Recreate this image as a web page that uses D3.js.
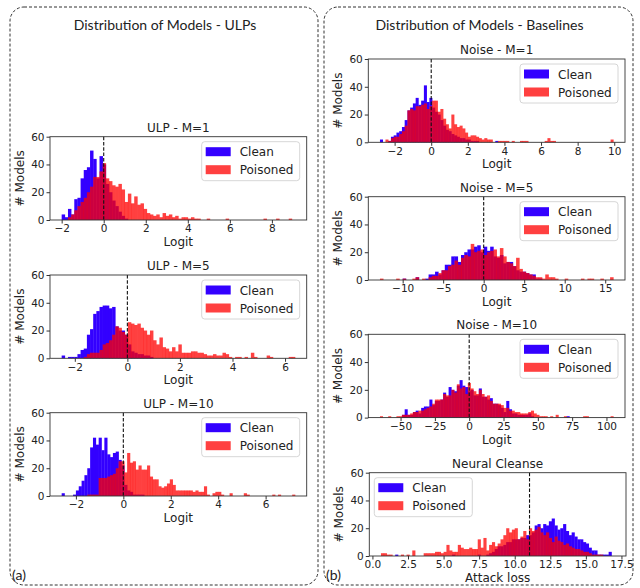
<!DOCTYPE html>
<html>
<head>
<meta charset="utf-8">
<script src="https://cdn.jsdelivr.net/npm/d3@7"></script>
<style>
  body { margin: 0; background: #fff; }
</style>
</head>
<body>
<div id="chart"></div>
<script>
// ---- data: histogram counts (bin start, bin width, counts per bin) ----
const ulp1Start = -2.0, ulp1Step = 0.15;
const ulp1Clean = [4,2,8,4,15,16,30,36,38,50,44,30,46,40,26,20,14,10,6,3,1];
const ulp1Poisoned = [0,0,2,4,7,10,13,16,20,24, 31,31,35,41,30,28,25,24,26,22,
  13,19,12,17,11,12,8,5,4,3, 4,2,5,3,4,2,3,1,2,2, 1,2,1,1,0,0,1,0,0,0,
  0,0,1,0,0,0,0,0,0,0, 0,0,0,0,1,0,0,0,1,0, 0,0,1,0];

const ulp5Start = -2.5, ulp5Step = 0.12;
const ulp5Clean = [2,0,1,1,1,3,6,7,17,21, 32,34,37,38,38,36,37,23,20,20, 17,10,5,4,3,3,2,2,1];
const ulp5Poisoned = [0,0,0,0,0,0,0,1,3,4, 4,4,6,10,11,13,17,23,22,19,
  17,26,25,24,25,22,20,17,20,13, 10,15,8,7,5,8,5,10,4,4, 4,5,5,4,4,3,2,2,3,2,
  2,4,3,1,0,1,1,0,1,0, 4,1,0,0,0,2,1,0,0,0, 0,0,1,1];

const ulp10Start = -2.6, ulp10Step = 0.12;
const ulp10Clean = [2,0,0,0,1,4,7,11,15,20, 35,42,37,42,33,42,30,28,31,32, 26,22,8,4,3,1,1,1,1];
const ulp10Poisoned = [0,0,0,0,0,0,0,0,0,1, 1,1,1,13,13,13,14,15,16,20,
  25,25,17,31,24,25,19,22,19,19, 22,14,12,12,7,6,7,9,12,8, 4,4,4,4,4,4,3,4,3,3,
  7,1,0,2,3,3,1,0,0,2, 0,0,0,0,2,1,0,0,0,0, 0,0,0,0,1,0,1,0,0,0, 0,1];

const noise1Start = -2.8, noise1Step = 0.15;
const noise1Clean = [2,0,0,1,4,5,7,8,11,16, 23,25,28,32,27,30,41,29,32,25,
  22,20,16,12,9,8,6,5,4,3, 3,2,2,1,1,1,0,0,0,0, 0,0,1];
const noise1Poisoned = [0,0,2,1,3,4,4,6,8,12, 23,24,23,26,26,27,28,24,26,30,
  30,22,24,17,13,10,20,13,11,12, 10,7,4,5,5,4,3,2,3,2, 2,0,0,1,1,1,1,0,1,0,
  0,1,1,1,0,0,0,0,0,0, 1,3,1,1,0,0,0,0,0,0, 0,0,0,0,0,0,0,0,0,0, 0,0,0,0,2];

const noise5Start = -12.8, noise5Step = 0.4;
const noise5Clean = [0,0,0,0,0,0,0,1,0,0, 0,2,0,0,1,4,4,6,4,7,
  11,11,17,17,13,18,20,22,22,24, 25,20,24,21,24,17,16,18,12,13, 13,10,7,6,6,5,4,4,1,1];
const noise5Poisoned = [1,0,0,0,0,1,0,1,0,0, 1,2,0,1,0,2,3,3,5,7,
  7,10,11,14,11,16,18,17,26,20, 21,22,18,20,21,22,17,23,17,13, 12,10,16,8,6,5,4,3,2,2,
  1,4,2,2,1,0,0,1,0,0, 0,0,1,0,1,1,0,0,1,0, 0,2];

const noise10Start = -65, noise10Step = 2;
const noise10Clean = [0,0,0,0,0,0,0,0,2,6, 2,2,4,5,3,7,8,8,13,9,
  12,12,13,18,15,22,20,19,23,27, 23,22,19,20,16,16,21,15,15,13, 14,10,10,9,7,4,12,6,3,3,
  2,2,2,2,3,1,0,0,0,0, 0,0,0,0,0,0,0,0,1];
const noise10Poisoned = [1,0,0,1,0,0,1,1,2,2, 2,3,4,4,5,5,6,7,8,10,
  13,13,13,17,16,16,20,18,24,21, 22,17,25,21,19,17,20,17,15,16, 12,10,10,10,9,7,7,5,5,4,
  4,3,3,3,4,5,3,2,1,1, 1,0,1,0,2,0,0,1,0,0, 0,0,0,0,1,1,0,0,0,0, 0,0,0,0,1];

const ncStart = 0.6, ncStep = 0.2;
const ncClean = [0,0,0,0,0,1,0,0,0,0, 0,0,0,0,0,0,0,0,0,0,
  0,0,0,0,0,1,0,0,0,0, 0,0,0,0,1,0,0,1,2,3, 5,7,7,8,10,10,12,12,12,13,
  13,15,15,17,22,23,20,23,22,25, 27,22,19,20,23,18,15,17,14,12, 12,10,9,6,4,4,1,1,1,1, 3,0];
const ncPoisoned = [2,2,1,1,0,0,0,1,0,1, 0,4,0,0,0,2,2,2,2,3,
  3,2,3,8,4,3,3,8,6,5, 5,6,5,5,12,6,13,4,8,10, 7,9,12,15,20,17,19,20,12,14,
  18,12,20,18,19,21,17,15,17,13, 10,14,11,10,8,9,7,6,5,5, 4,3,3,2,1,1,1,1,0,0, 0,0];

const logitTicks = [-2, 0, 2, 4, 6, 8, 10];
const noise5Ticks = [-10, -5, 0, 5, 10, 15];
const noise10Ticks = [-50, -25, 0, 25, 50, 75, 100];
const ncTicks = [0, 2.5, 5, 7.5, 10, 12.5, 15, 17.5];
const countTicks = [0, 20, 40, 60];
const seriesNames = ["Clean", "Poisoned"];

// ---- layout ----
const width = 640, height = 588;
const plotW = 256.7, plotH = 83.3;
const blue = "#3300ff", red = "#ff0000";
const mplFont = "'DejaVu Sans', sans-serif";
const slideFont = "Lato, 'Open Sans', sans-serif";

const charts = [
  {title: "ULP - M=1", xLabel: "Logit", start: ulp1Start, step: ulp1Step, clean: ulp1Clean, poisoned: ulp1Poisoned,
   ticks: logitTicks, fmt: "d", threshold: 0, left: 50, top: 136.7, legend: "right"},
  {title: "ULP - M=5", xLabel: "Logit", start: ulp5Start, step: ulp5Step, clean: ulp5Clean, poisoned: ulp5Poisoned,
   ticks: logitTicks, fmt: "d", threshold: 0, left: 50, top: 275, legend: "right"},
  {title: "ULP - M=10", xLabel: "Logit", start: ulp10Start, step: ulp10Step, clean: ulp10Clean, poisoned: ulp10Poisoned,
   ticks: logitTicks, fmt: "d", threshold: 0, left: 50, top: 412.7, legend: "right"},
  {title: "Noise - M=1", xLabel: "Logit", start: noise1Start, step: noise1Step, clean: noise1Clean, poisoned: noise1Poisoned,
   ticks: logitTicks, fmt: "d", threshold: 0, left: 368.3, top: 59, legend: "right"},
  {title: "Noise - M=5", xLabel: "Logit", start: noise5Start, step: noise5Step, clean: noise5Clean, poisoned: noise5Poisoned,
   ticks: noise5Ticks, fmt: "d", threshold: 0, left: 368.3, top: 196.7, legend: "right"},
  {title: "Noise - M=10", xLabel: "Logit", start: noise10Start, step: noise10Step, clean: noise10Clean, poisoned: noise10Poisoned,
   ticks: noise10Ticks, fmt: "d", threshold: 0, left: 368.3, top: 334.3, legend: "right"},
  {title: "Neural Cleanse", xLabel: "Attack loss", start: ncStart, step: ncStep, clean: ncClean, poisoned: ncPoisoned,
   ticks: ncTicks, fmt: ".1f", threshold: 11.04, left: 369.3, top: 472.7, legend: "left"}
];

const svg = d3.select("#chart").append("svg")
  .attr("width", width)
  .attr("height", height)
  .attr("viewBox", [0, 0, width, height]);

svg.append("rect").attr("width", width).attr("height", height).attr("fill", "#fff");

// dashed panels
const panels = [
  {x: 10, y: 7, w: 308, h: 578, title: "Distribution of Models - ULPs", tag: "(a)"},
  {x: 324, y: 7, w: 309, h: 578, title: "Distribution of Models - Baselines", tag: "(b)"}
];
panels.forEach(p => {
  svg.append("rect")
    .attr("x", p.x).attr("y", p.y).attr("width", p.w).attr("height", p.h)
    .attr("rx", 14).attr("ry", 14)
    .attr("fill", "none").attr("stroke", "#333").attr("stroke-width", 1)
    .attr("stroke-dasharray", "3,2");
  svg.append("text")
    .attr("x", p.x + p.w / 2 + 1).attr("y", 30)
    .attr("text-anchor", "middle")
    .style("font-family", slideFont)
    .style("font-size", "14px")
    .attr("fill", "#222")
    .text(p.title);
  svg.append("text")
    .attr("x", p.x + 2).attr("y", 580)
    .style("font-family", slideFont)
    .style("font-size", "14px")
    .attr("fill", "#222")
    .text(p.tag);
});

charts.forEach(c => {
  const n = Math.max(c.clean.length, c.poisoned.length);
  const lo = c.start, hi = c.start + n * c.step;
  const pad = (hi - lo) * 0.05;

  const x = d3.scaleLinear().domain([lo - pad, hi + pad]).range([c.left, c.left + plotW]);
  const y = d3.scaleLinear().domain([0, 60]).range([c.top + plotH, c.top]);
  const ticks = c.ticks.filter(t => t >= lo - pad && t <= hi + pad);

  const g = svg.append("g");

  const bars = (counts, color, opacity) => {
    g.append("g")
      .attr("fill", color)
      .attr("fill-opacity", opacity)
      .selectAll("rect")
      .data(counts.map((v, i) => ({i, v})).filter(d => d.v > 0))
      .join("rect")
      .attr("x", d => x(c.start + d.i * c.step))
      .attr("width", d => x(c.start + (d.i + 1) * c.step) - x(c.start + d.i * c.step) + 0.3)
      .attr("y", d => y(d.v))
      .attr("height", d => y(0) - y(d.v));
  };
  bars(c.clean, blue, 1);
  bars(c.poisoned, red, 0.75);

  // threshold line
  g.append("line")
    .attr("x1", x(c.threshold)).attr("x2", x(c.threshold))
    .attr("y1", c.top).attr("y2", c.top + plotH)
    .attr("stroke", "#111").attr("stroke-width", 1.1)
    .attr("stroke-dasharray", "3.5,1.8");

  // axes
  g.append("g")
    .attr("transform", `translate(0,${c.top + plotH})`)
    .call(d3.axisBottom(x).tickValues(ticks).tickFormat(d3.format(c.fmt)).tickSize(3.5).tickPadding(1.5))
    .call(a => a.select(".domain").remove())
    .call(a => a.selectAll("text").style("font-family", mplFont).style("font-size", "10.5px").attr("fill", "#222"))
    .call(a => a.selectAll("line").attr("stroke", "#333"));

  g.append("g")
    .attr("transform", `translate(${c.left},0)`)
    .call(d3.axisLeft(y).tickValues(countTicks).tickSize(3.5).tickPadding(2))
    .call(a => a.select(".domain").remove())
    .call(a => a.selectAll("text").style("font-family", mplFont).style("font-size", "10.5px").attr("fill", "#222"))
    .call(a => a.selectAll("line").attr("stroke", "#333"));

  g.append("rect")
    .attr("x", c.left).attr("y", c.top).attr("width", plotW).attr("height", plotH)
    .attr("fill", "none").attr("stroke", "#333").attr("stroke-width", 0.9);

  // labels
  const label = (sel) => sel.style("font-family", mplFont).style("font-size", "12px").attr("fill", "#222");
  g.append("text")
    .attr("x", c.left + plotW / 2).attr("y", c.top - 5)
    .attr("text-anchor", "middle").call(label)
    .text(c.title);
  g.append("text")
    .attr("x", c.left + plotW / 2).attr("y", c.top + plotH + 26)
    .attr("text-anchor", "middle").call(label)
    .text(c.xLabel);
  g.append("text")
    .attr("transform", `translate(${c.left - 26},${c.top + plotH / 2}) rotate(-90)`)
    .attr("text-anchor", "middle").call(label)
    .text("# Models");

  // legend
  const lw = 98, lh = 39;
  const lx = c.legend === "right" ? c.left + plotW - 7 - lw : c.left + 5;
  const ly = c.top + 5;
  const leg = g.append("g").attr("transform", `translate(${lx},${ly})`);
  leg.append("rect")
    .attr("width", lw).attr("height", lh).attr("rx", 3)
    .attr("fill", "#fff").attr("fill-opacity", 0.8)
    .attr("stroke", "#ccc").attr("stroke-width", 0.8);
  seriesNames.forEach((name, i) => {
    leg.append("rect")
      .attr("x", 4).attr("y", 5.5 + i * 18).attr("width", 25).attr("height", 9)
      .attr("fill", i === 0 ? blue : red).attr("fill-opacity", i === 0 ? 1 : 0.75);
    leg.append("text")
      .attr("x", 38).attr("y", 14.5 + i * 18)
      .call(label)
      .text(name);
  });
});
</script>
</body>
</html>
